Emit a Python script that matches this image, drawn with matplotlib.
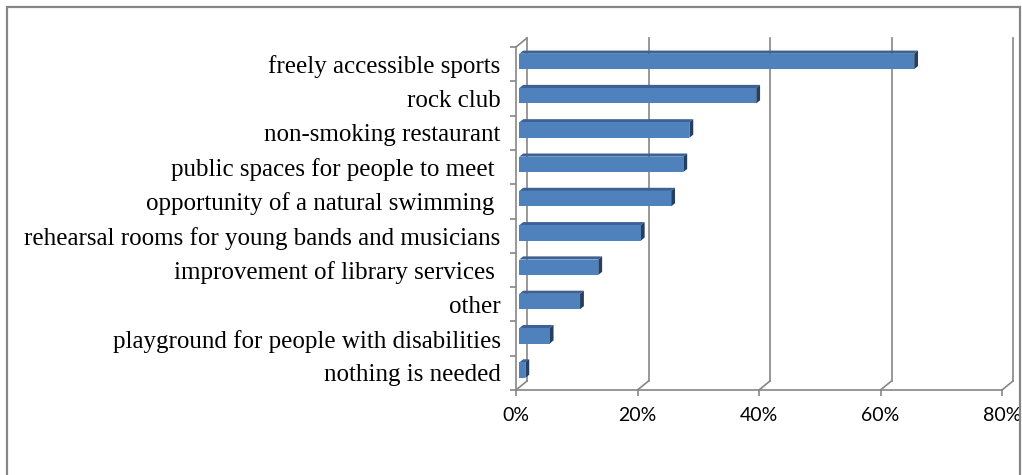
import matplotlib

matplotlib.use("Agg")
import matplotlib.pyplot as plt
import numpy as np
from matplotlib.patches import Polygon, Rectangle
from matplotlib.transforms import IdentityTransform

categories = [
    "freely accessible sports",
    "rock club",
    "non-smoking restaurant",
    "public spaces for people to meet ",
    "opportunity of a natural swimming ",
    "rehearsal rooms for young bands and musicians",
    "improvement of library services ",
    "other",
    "playground for people with disabilities",
    "nothing is needed",
]
shares = [65, 39, 28, 27, 25, 20, 13, 10, 5, 1]
x_ticks = [0, 20, 40, 60, 80]

GRID = "#868686"
FRONT = "#4F81BD"
TOP = "#3B6195"
SIDE = "#253F60"
DEPTH = np.array([11.0, 9.0])  # full wall depth in pixels (right, up)
BAR_FRONT, BAR_BACK = 0.3, 0.65
BAR_H = 0.45

fig = plt.figure(figsize=(10.22, 4.75), dpi=100)
fig.add_artist(Rectangle((7 / 1022, -0.1), 1013 / 1022, 1.1 - 7 / 475,
                         transform=fig.transFigure, fill=False, edgecolor=GRID, lw=1.6))

ax = fig.add_axes([516 / 1022, 85 / 475, 486 / 1022, 343 / 475])
ax.set_xlim(0, 80)
ax.set_ylim(len(categories) - 0.5, -0.5)
ax.patch.set_visible(False)
for side in ("top", "right"):
    ax.spines[side].set_visible(False)
for side in ("left", "bottom"):
    ax.spines[side].set_color(GRID)
    ax.spines[side].set_linewidth(1.2)

ax.set_xticks(x_ticks, [f"{t}%" for t in x_ticks])
ax.tick_params(axis="x", length=4, color=GRID, width=1.2, pad=8, labelsize=14)
for lab in ax.get_xticklabels():
    lab.set_family("Lato")
ax.set_yticks(range(len(categories)), categories)
ax.tick_params(axis="y", which="major", length=0, pad=11, labelsize=18)
for lab in ax.get_yticklabels():
    lab.set_family("Liberation Serif")
ax.set_yticks(np.arange(-0.5, len(categories)), minor=True)
ax.tick_params(axis="y", which="minor", length=4, color=GRID, width=1.2)

fig.canvas.draw()


def px(x, y, depth):
    return ax.transData.transform((x, y)) + depth * DEPTH


def poly(points, **kw):
    ax.add_patch(Polygon(points, closed=True, transform=IdentityTransform(), clip_on=False, **kw))


def line(p0, p1):
    ax.add_line(plt.Line2D([p0[0], p1[0]], [p0[1], p1[1]], transform=IdentityTransform(),
                           color=GRID, lw=1.2, clip_on=False))


y_lo, y_hi = ax.get_ylim()
# back wall gridlines and floor diagonals
for t in x_ticks:
    line(px(t, y_lo, 1), px(t, y_hi, 1))
    line(px(t, y_lo, 0), px(t, y_lo, 1))
line(px(0, y_hi, 0), px(0, y_hi, 1))

# 3D bars: front face, top face, end face
for i, v in enumerate(shares):
    top, bot = i - BAR_H / 2, i + BAR_H / 2
    f0, f1 = BAR_FRONT, BAR_BACK
    poly([px(0, top, f0), px(v, top, f0), px(v, top, f1), px(0, top, f1)],
         facecolor=TOP, edgecolor="none", zorder=3)
    poly([px(v, bot, f0), px(v, top, f0), px(v, top, f1), px(v, bot, f1)],
         facecolor=SIDE, edgecolor="none", zorder=3)
    poly([px(0, bot, f0), px(v, bot, f0), px(v, top, f0), px(0, top, f0)],
         facecolor=FRONT, edgecolor="none", zorder=4)

fig.savefig("out.png", dpi=100)
